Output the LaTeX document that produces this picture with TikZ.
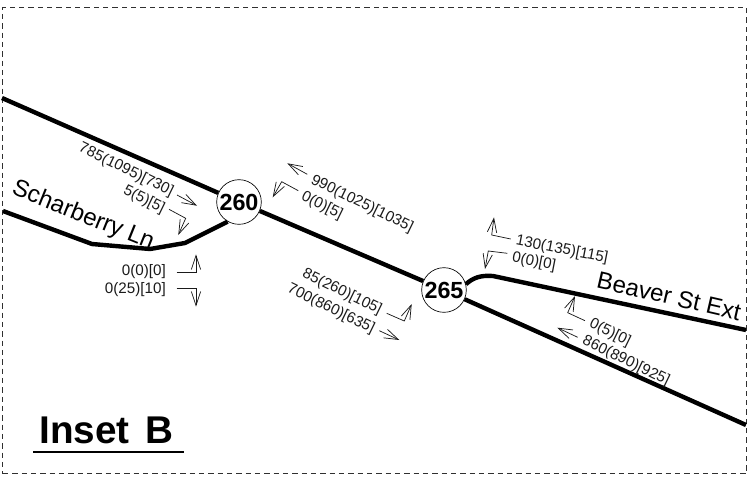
\documentclass[tikz,border=0pt]{standalone}
\usepackage{fontspec}
\setmainfont{Liberation Sans}
\usetikzlibrary{arrows.meta}
\definecolor{Frame}{HTML}{303030}
\definecolor{Ink}{HTML}{1A1A1A}
\begin{document}
\begin{tikzpicture}[x=0.75pt,y=-0.75pt,
    road/.style={line width=3.3pt,black,line join=round},
    turn/.style={line width=0.55pt,Ink,-{Straight Barb[length=10.5pt,width=7pt,line width=0.55pt]}},
    junction/.style={circle,draw,fill=white,line width=0.5pt,minimum size=33.5pt,inner sep=0pt,font=\fontsize{17.5}{19}\selectfont\bfseries},
    vol/.style={inner sep=0pt,font=\fontsize{11.4}{13}\selectfont,text=Ink},
    street/.style={inner sep=0pt,font=\fontsize{18}{20}\selectfont}]
  \useasboundingbox (0,0) rectangle (751,479);
  \node[draw=Frame,dash pattern=on 4pt off 3pt,line width=0.6pt,minimum width=557.5pt,minimum height=350pt,inner sep=0pt] (frame) at (374.5,240.5) {};
  \node[junction] (j260) at (239,202) {260};
  \node[junction] (j265) at (444,290) {265};
  \coordinate (nwend) at (2,98);
  \coordinate (seend) at (746,425);
  \coordinate (sch1) at (3,211);
  \coordinate (sch2) at (92,244);
  \coordinate (sch3) at (150,249);
  \coordinate (sch4) at (185,243);
  \coordinate (bv1) at (493,276);
  \coordinate (bvend) at (746,330);
  \draw[road] (nwend) -- (j260);
  \draw[road] (j260) -- (j265);
  \draw[road] (j265) -- (seend);
  \draw[road] (sch1) -- (sch2) -- (sch3) -- (sch4) -- (j260.240);
  \draw[road] (j265.15) .. controls (473,278) and (480,275) .. (bv1) -- (bvend);
  \node[vol,rotate=-26] (v785) at (126,170) {785(1095)[730]};
  \node[vol,rotate=-26] (v5) at (144,200) {5(5)[5]};
  \node[vol,anchor=east] (v0a) at (166,272) {0(0)[0]};
  \node[vol,anchor=east] (v0b) at (166,290) {0(25)[10]};
  \node[vol,rotate=-26] (v990) at (362,204) {990(1025)[1035]};
  \node[vol,rotate=-26] (v0c) at (322,206) {0(0)[5]};
  \node[vol,rotate=-26] (v85) at (342,292) {85(260)[105]};
  \node[vol,rotate=-26] (v700) at (331,309) {700(860)[635]};
  \node[vol,rotate=-11] (v130) at (562,250) {130(135)[115]};
  \node[vol,rotate=-11] (v0d) at (534,262) {0(0)[0]};
  \node[vol,rotate=-26] (v0e) at (610,333) {0(5)[0]};
  \node[vol,rotate=-26] (v860) at (626,361) {860(890)[925]};
  \node[street,rotate=-22] (sch) at (83,216) {Scharberry Ln};
  \node[street,rotate=-13] (bv) at (669,296) {Beaver St Ext};
  \node[inner sep=0pt,font=\fontsize{29}{32}\selectfont\bfseries] (inset) at (106.5,430) {Inset\kern4pt\ B};
  \coordinate (ul1) at (33,452);
  \coordinate (ul2) at (184,452);
  \draw[line width=0.8pt] (ul1) -- (ul2);
  \coordinate (a1) at (177,195);
  \coordinate (a2) at (197,205.7);
  \draw[turn] (a1) -- (a2);
  \coordinate (b1) at (169,209.3);
  \coordinate (b2) at (185.7,218.3);
  \coordinate (b3) at (178.3,235);
  \draw[turn] (b1) -- (b2) -- (b3);
  \coordinate (c1) at (176.7,272.7);
  \coordinate (c2) at (196,272.7);
  \coordinate (c3) at (196,254.3);
  \draw[turn] (c1) -- (c2) -- (c3);
  \coordinate (d1) at (176.7,288);
  \coordinate (d2) at (196,288);
  \coordinate (d3) at (196,306.7);
  \draw[turn] (d1) -- (d2) -- (d3);
  \coordinate (e1) at (307.3,174.3);
  \coordinate (e2) at (287.3,163.3);
  \draw[turn] (e1) -- (e2);
  \coordinate (f1) at (298.3,190.7);
  \coordinate (f2) at (281.7,181.7);
  \coordinate (f3) at (272.7,197.3);
  \draw[turn] (f1) -- (f2) -- (f3);
  \coordinate (g1) at (386.7,313.3);
  \coordinate (g2) at (404.3,321);
  \coordinate (g3) at (411.7,304);
  \draw[turn] (g1) -- (g2) -- (g3);
  \coordinate (h1) at (379.3,330.7);
  \coordinate (h2) at (399.3,340);
  \draw[turn] (h1) -- (h2);
  \coordinate (i1) at (510.7,239);
  \coordinate (i2) at (491.7,235);
  \coordinate (i3) at (494,217.3);
  \draw[turn] (i1) -- (i2) -- (i3);
  \coordinate (k1) at (507.3,253.3);
  \coordinate (k2) at (488.3,251);
  \coordinate (k3) at (485,269);
  \draw[turn] (k1) -- (k2) -- (k3);
  \coordinate (m1) at (585,320.7);
  \coordinate (m2) at (567.7,312.7);
  \coordinate (m3) at (575,296);
  \draw[turn] (m1) -- (m2) -- (m3);
  \coordinate (n1) at (577.7,337.3);
  \coordinate (n2) at (557.3,327.7);
  \draw[turn] (n1) -- (n2);
\end{tikzpicture}
\end{document}
